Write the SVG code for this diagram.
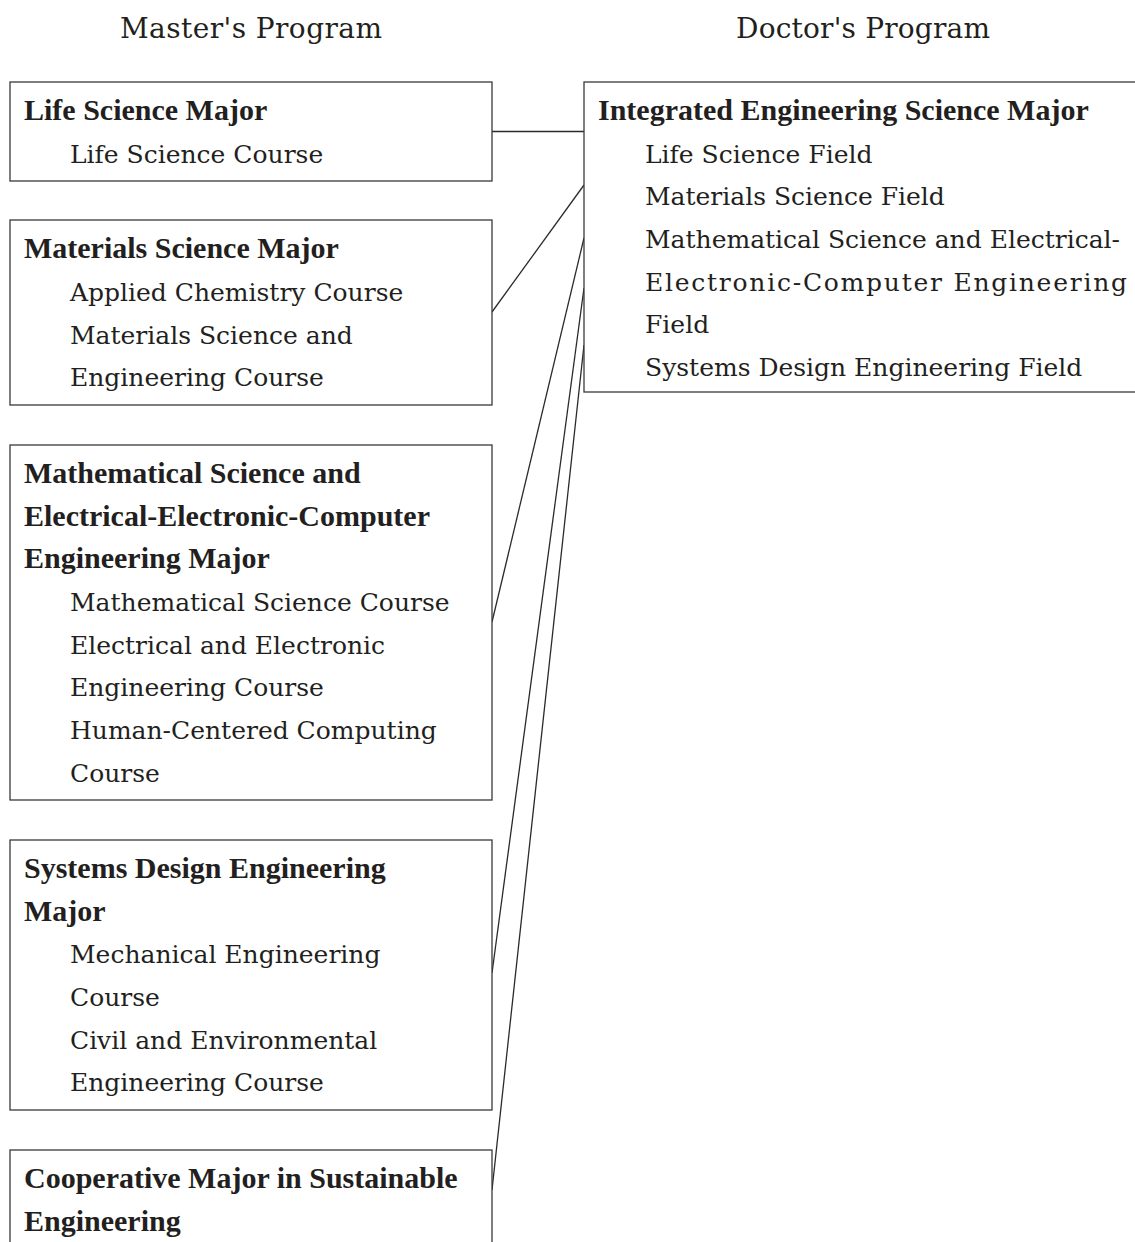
<svg xmlns="http://www.w3.org/2000/svg" width="1135" height="1242" viewBox="0 0 1135 1242">
<style>
.box{fill:#fff;stroke:#3a3a3a;stroke-width:1.3}
.t{font-family:"DejaVu Serif","Liberation Serif",serif;font-size:25px;fill:#231f20}
.b{font-family:"Liberation Serif","Times New Roman",serif;font-weight:bold;font-size:30px;fill:#231f20}
.ttl{font-family:"DejaVu Serif","Liberation Serif",serif;font-size:28px;fill:#231f20;text-anchor:middle}
.c{stroke:#2a2a2a;stroke-width:1.3;fill:none}
</style>
<rect width="1135" height="1242" fill="#fff"/>
<g id="titles">
<text class="ttl" x="251" y="38" textLength="262" lengthAdjust="spacing">Master's Program</text>
<text class="ttl" x="863" y="38" textLength="254" lengthAdjust="spacing">Doctor's Program</text>
</g>
<g id="connectors">
<line class="c" x1="492" y1="131.5" x2="584" y2="131.5"/>
<line class="c" x1="492" y1="312" x2="584" y2="185"/>
<line class="c" x1="492" y1="622" x2="584" y2="238"/>
<line class="c" x1="492" y1="973" x2="584" y2="288"/>
<line class="c" x1="492" y1="1190" x2="584" y2="345"/>
</g>
<g id="life-science-major">
<rect class="box" x="10" y="82" width="482" height="99"/>
<text class="b" x="24" y="120">Life Science Major</text>
<text class="t" x="70" y="163">Life Science Course</text>
</g>
<g id="materials-science-major">
<rect class="box" x="10" y="220" width="482" height="185"/>
<text class="b" x="24" y="258">Materials Science Major</text>
<text class="t" x="70" y="301">Applied Chemistry Course</text>
<text class="t" x="70" y="344">Materials Science and</text>
<text class="t" x="70" y="386">Engineering Course</text>
</g>
<g id="math-eec-major">
<rect class="box" x="10" y="445" width="482" height="355"/>
<text class="b" x="24" y="483">Mathematical Science and</text>
<text class="b" x="24" y="526">Electrical-Electronic-Computer</text>
<text class="b" x="24" y="568">Engineering Major</text>
<text class="t" x="70" y="611">Mathematical Science Course</text>
<text class="t" x="70" y="654">Electrical and Electronic</text>
<text class="t" x="70" y="696">Engineering Course</text>
<text class="t" x="70" y="739">Human-Centered Computing</text>
<text class="t" x="70" y="782">Course</text>
</g>
<g id="systems-design-major">
<rect class="box" x="10" y="840" width="482" height="270"/>
<text class="b" x="24" y="878">Systems Design Engineering</text>
<text class="b" x="24" y="921">Major</text>
<text class="t" x="70" y="963">Mechanical Engineering</text>
<text class="t" x="70" y="1006">Course</text>
<text class="t" x="70" y="1049">Civil and Environmental</text>
<text class="t" x="70" y="1091">Engineering Course</text>
</g>
<g id="cooperative-major">
<rect class="box" x="10" y="1150" width="482" height="120"/>
<text class="b" x="24" y="1188">Cooperative Major in Sustainable</text>
<text class="b" x="24" y="1231">Engineering</text>
</g>
<g id="integrated-major">
<rect class="box" x="584" y="82" width="580" height="310"/>
<text class="b" x="598" y="120">Integrated Engineering Science Major</text>
<text class="t" x="645" y="163">Life Science Field</text>
<text class="t" x="645" y="205">Materials Science Field</text>
<text class="t" x="645" y="248">Mathematical Science and Electrical-</text>
<text class="t" x="645" y="291" textLength="482" lengthAdjust="spacing">Electronic-Computer Engineering</text>
<text class="t" x="645" y="333">Field</text>
<text class="t" x="645" y="376">Systems Design Engineering Field</text>
</g>
</svg>
